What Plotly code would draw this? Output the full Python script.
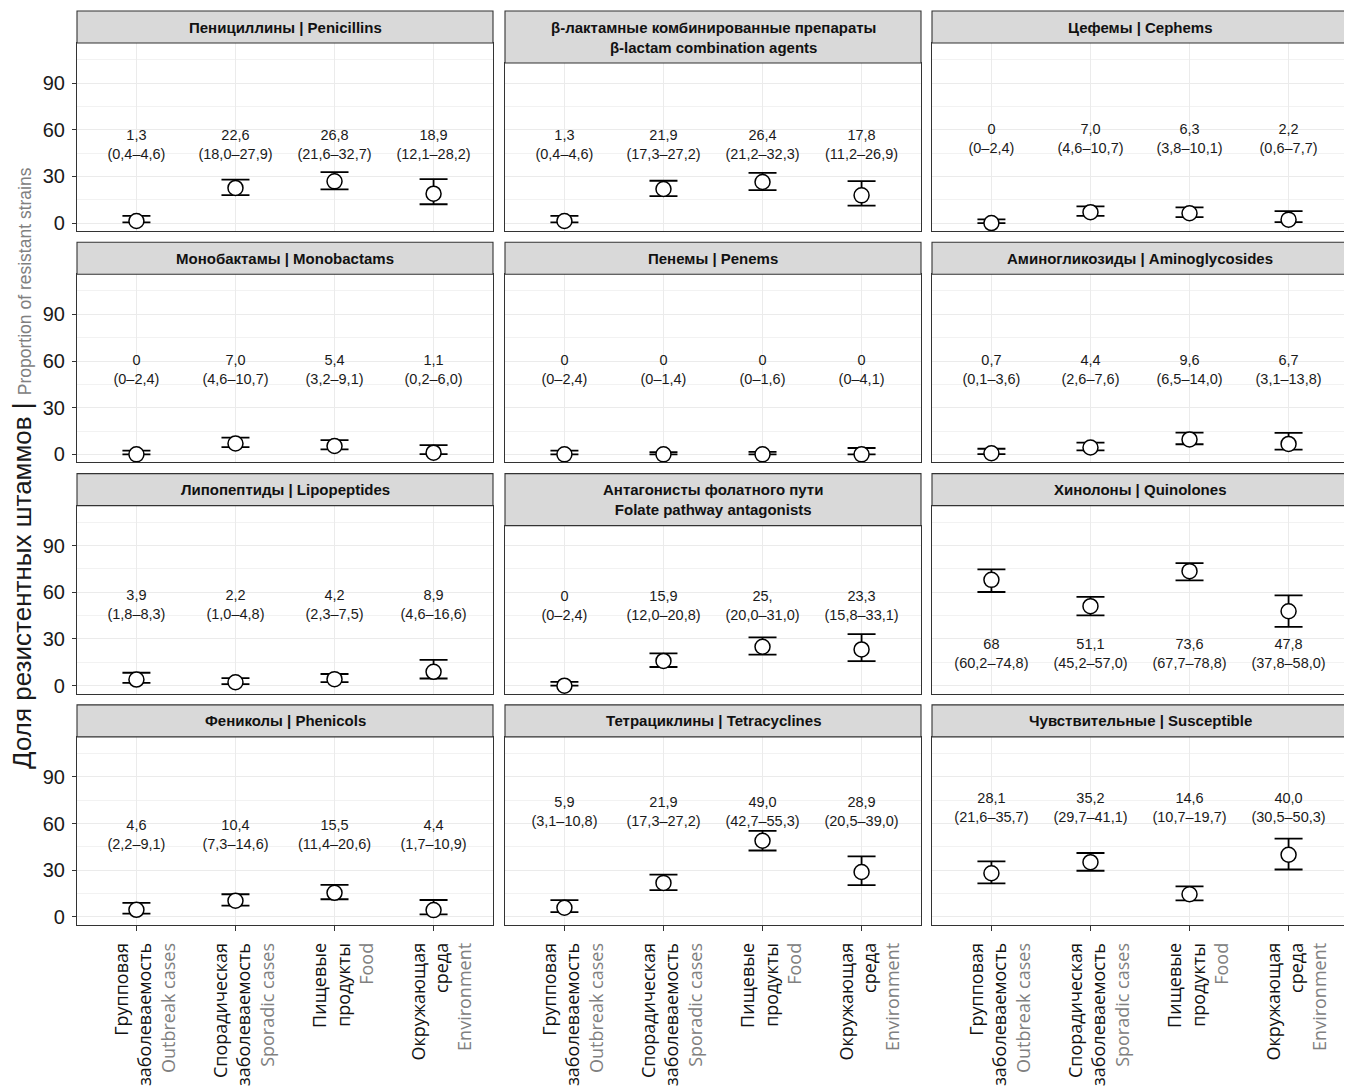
import plotly.graph_objects as go

# page body has an 8px margin; figure is sized/offset to land on the reference grid
PAGE_W, PAGE_H = 1352, 1087
OFF = 8
W, H = PAGE_W - OFF, PAGE_H - OFF

# ---------------- data ----------------
panel_titles = [
    "Пенициллины | Penicillins",
    "β-лактамные комбинированные препараты<br>β-lactam combination agents",
    "Цефемы | Cephems",
    "Монобактамы | Monobactams",
    "Пенемы | Penems",
    "Аминогликозиды | Aminoglycosides",
    "Липопептиды | Lipopeptides",
    "Антагонисты фолатного пути<br>Folate pathway antagonists",
    "Хинолоны | Quinolones",
    "Фениколы | Phenicols",
    "Тетрациклины | Tetracyclines",
    "Чувствительные | Susceptible",
]

categories_ru = [
    "Групповая<br>заболеваемость",
    "Спорадическая<br>заболеваемость",
    "Пищевые<br>продукты",
    "Окружающая<br>среда",
]
categories_en = ["Outbreak cases", "Sporadic cases", "Food", "Environment"]

values = [
    [1.3, 22.6, 26.8, 18.9],
    [1.3, 21.9, 26.4, 17.8],
    [0.0, 7.0, 6.3, 2.2],
    [0.0, 7.0, 5.4, 1.1],
    [0.0, 0.0, 0.0, 0.0],
    [0.7, 4.4, 9.6, 6.7],
    [3.9, 2.2, 4.2, 8.9],
    [0.0, 15.9, 25.0, 23.3],
    [68.0, 51.1, 73.6, 47.8],
    [4.6, 10.4, 15.5, 4.4],
    [5.9, 21.9, 49.0, 28.9],
    [28.1, 35.2, 14.6, 40.0],
]
lower = [
    [0.4, 18.0, 21.6, 12.1],
    [0.4, 17.3, 21.2, 11.2],
    [0.0, 4.6, 3.8, 0.6],
    [0.0, 4.6, 3.2, 0.2],
    [0.0, 0.0, 0.0, 0.0],
    [0.1, 2.6, 6.5, 3.1],
    [1.8, 1.0, 2.3, 4.6],
    [0.0, 12.0, 20.0, 15.8],
    [60.2, 45.2, 67.7, 37.8],
    [2.2, 7.3, 11.4, 1.7],
    [3.1, 17.3, 42.7, 20.5],
    [21.6, 29.7, 10.7, 30.5],
]
upper = [
    [4.6, 27.9, 32.7, 28.2],
    [4.6, 27.2, 32.3, 26.9],
    [2.4, 10.7, 10.1, 7.7],
    [2.4, 10.7, 9.1, 6.0],
    [2.4, 1.4, 1.6, 4.1],
    [3.6, 7.6, 14.0, 13.8],
    [8.3, 4.8, 7.5, 16.6],
    [2.4, 20.8, 31.0, 33.1],
    [74.8, 57.0, 78.8, 58.0],
    [9.1, 14.6, 20.6, 10.9],
    [10.8, 27.2, 55.3, 39.0],
    [35.7, 41.1, 19.7, 50.3],
]
value_labels = [
    ["1,3", "22,6", "26,8", "18,9"],
    ["1,3", "21,9", "26,4", "17,8"],
    ["0", "7,0", "6,3", "2,2"],
    ["0", "7,0", "5,4", "1,1"],
    ["0", "0", "0", "0"],
    ["0,7", "4,4", "9,6", "6,7"],
    ["3,9", "2,2", "4,2", "8,9"],
    ["0", "15,9", "25,", "23,3"],
    ["68", "51,1", "73,6", "47,8"],
    ["4,6", "10,4", "15,5", "4,4"],
    ["5,9", "21,9", "49,0", "28,9"],
    ["28,1", "35,2", "14,6", "40,0"],
]
ci_labels = [
    ["(0,4–4,6)", "(18,0–27,9)", "(21,6–32,7)", "(12,1–28,2)"],
    ["(0,4–4,6)", "(17,3–27,2)", "(21,2–32,3)", "(11,2–26,9)"],
    ["(0–2,4)", "(4,6–10,7)", "(3,8–10,1)", "(0,6–7,7)"],
    ["(0–2,4)", "(4,6–10,7)", "(3,2–9,1)", "(0,2–6,0)"],
    ["(0–2,4)", "(0–1,4)", "(0–1,6)", "(0–4,1)"],
    ["(0,1–3,6)", "(2,6–7,6)", "(6,5–14,0)", "(3,1–13,8)"],
    ["(1,8–8,3)", "(1,0–4,8)", "(2,3–7,5)", "(4,6–16,6)"],
    ["(0–2,4)", "(12,0–20,8)", "(20,0–31,0)", "(15,8–33,1)"],
    ["(60,2–74,8)", "(45,2–57,0)", "(67,7–78,8)", "(37,8–58,0)"],
    ["(2,2–9,1)", "(7,3–14,6)", "(11,4–20,6)", "(1,7–10,9)"],
    ["(3,1–10,8)", "(17,3–27,2)", "(42,7–55,3)", "(20,5–39,0)"],
    ["(21,6–35,7)", "(29,7–41,1)", "(10,7–19,7)", "(30,5–50,3)"],
]

# label placement (y in data units) per panel - layout, not data
label_y = [49.5, 49.5, 53.7, 53.5, 53.5, 53.5, 51.5, 50.5, 19.7, 52.0, 67.0, 69.3]

y_ticks = [0, 30, 60, 90]

# ---------------- layout geometry (page px) ----------------
col_x0 = [77, 505, 932]
col_x1 = [493, 921, 1348]
row_step = 231.3
row_top0 = 11
row_bot0 = 231
strip_single = 32
strip_double = 52
px_per_unit = 1.556
y_min = -5.1


def fx(x):
    return (x - OFF) / W


def fy(y):
    return 1 - (y - OFF) / H


GREY_EN = "#808080"
BORDER = "#333333"
GRID = "#ebebeb"
AXFONT = "Liberation Sans, Arial, sans-serif"
CATFONT = "Open Sans, Noto Sans, sans-serif"

fig = go.Figure()
shapes = []
annotations = []
layout_axes = {}

xs = [1, 2, 3, 4]
cat_text = [
    f"{ru}<br><span style='color:{GREY_EN}'>{en}</span>"
    for ru, en in zip(categories_ru, categories_en)
]

for i in range(12):
    r, c = divmod(i, 3)
    idx = "" if i == 0 else str(i + 1)
    top = row_top0 + r * row_step
    bot = row_bot0 + r * row_step
    sh = strip_double if "<br>" in panel_titles[i] else strip_single
    x0, x1 = col_x0[c], col_x1[c]
    plot_top = top + sh
    y_max = y_min + (bot - plot_top) / px_per_unit

    layout_axes[f"xaxis{idx}"] = dict(
        domain=[fx(x0), fx(x1)],
        anchor=f"y{idx}",
        range=[0.4, 4.6],
        tickvals=xs,
        showticklabels=False,
        ticks="outside" if r == 3 else "",
        ticklen=5,
        tickwidth=1.1,
        tickcolor=BORDER,
        showgrid=True,
        gridcolor=GRID,
        gridwidth=1.2,
        showline=True,
        linecolor=BORDER,
        linewidth=1.1,
        mirror=True,
        zeroline=False,
        fixedrange=True,
        automargin=False,
    )
    layout_axes[f"yaxis{idx}"] = dict(
        domain=[fy(bot), fy(plot_top)],
        anchor=f"x{idx}",
        range=[y_min, y_max],
        tickvals=y_ticks,
        showticklabels=(c == 0),
        ticks="outside" if c == 0 else "",
        ticklen=4,
        tickwidth=1.1,
        tickcolor=BORDER,
        ticklabelstandoff=3,
        tickfont=dict(family=AXFONT, size=20, color="#1a1a1a"),
        showgrid=True,
        gridcolor=GRID,
        gridwidth=1.2,
        minor=dict(dtick=15, tick0=15, showgrid=True, gridcolor="#f2f2f2", gridwidth=0.7),
        showline=True,
        linecolor=BORDER,
        linewidth=1.1,
        mirror=True,
        zeroline=False,
        fixedrange=True,
        automargin=False,
    )

    # strip
    shapes.append(dict(
        type="rect", xref="paper", yref="paper",
        x0=fx(x0), x1=fx(x1), y0=fy(top + sh), y1=fy(top),
        fillcolor="#d9d9d9", line=dict(color=BORDER, width=1.1), layer="above",
    ))
    annotations.append(dict(
        xref="paper", yref="paper",
        x=fx((x0 + x1) / 2), y=fy(top + sh / 2),
        text=f"<b>{panel_titles[i]}</b>", showarrow=False,
        xanchor="center", yanchor="middle",
        font=dict(family=AXFONT, size=15, color="#111111"),
    ))

    # category labels under the bottom row
    if r == 3:
        for xv, t in zip(xs, cat_text):
            annotations.append(dict(
                xref=f"x{idx}", yref="paper", x=xv, y=fy(bot + 16),
                text=t, textangle=-90, showarrow=False,
                xanchor="center", yanchor="top", align="right", xshift=8,
                font=dict(family=CATFONT, size=18, color="#111111"),
            ))

    v = values[i]
    lo = lower[i]
    up = upper[i]
    fig.add_trace(go.Scatter(
        x=xs, y=v, mode="markers",
        xaxis=f"x{idx}", yaxis=f"y{idx}",
        marker=dict(size=15, color="white", line=dict(color="black", width=1.5)),
        error_y=dict(
            type="data", symmetric=False,
            array=[u - a for u, a in zip(up, v)],
            arrayminus=[a - l for a, l in zip(v, lo)],
            width=14, thickness=1.8, color="black",
        ),
        showlegend=False, hoverinfo="skip", cliponaxis=False,
    ))
    fig.add_trace(go.Scatter(
        x=xs, y=[label_y[i]] * 4, mode="text",
        xaxis=f"x{idx}", yaxis=f"y{idx}",
        text=[f"{a}<br>{b}" for a, b in zip(value_labels[i], ci_labels[i])],
        textposition="middle center",
        textfont=dict(family=AXFONT, size=14.5, color="#1a1a1a"),
        showlegend=False, hoverinfo="skip",
    ))

annotations.append(dict(
    xref="paper", yref="paper", x=fx(22), y=fy(468),
    text=("<span style='font-size:26px'>Доля резистентных штаммов | </span>"
          f"<span style='color:{GREY_EN};font-size:17.5px'>Proportion of resistant strains</span>"),
    textangle=-90, showarrow=False, xanchor="center", yanchor="middle",
    font=dict(family=AXFONT, size=26, color="#1a1a1a"),
))

fig.update_layout(
    width=W, height=H,
    margin=dict(l=0, r=0, t=0, b=0),
    paper_bgcolor="white", plot_bgcolor="white",
    shapes=shapes, annotations=annotations,
    showlegend=False,
    **layout_axes,
)

fig.write_html("out.html")
